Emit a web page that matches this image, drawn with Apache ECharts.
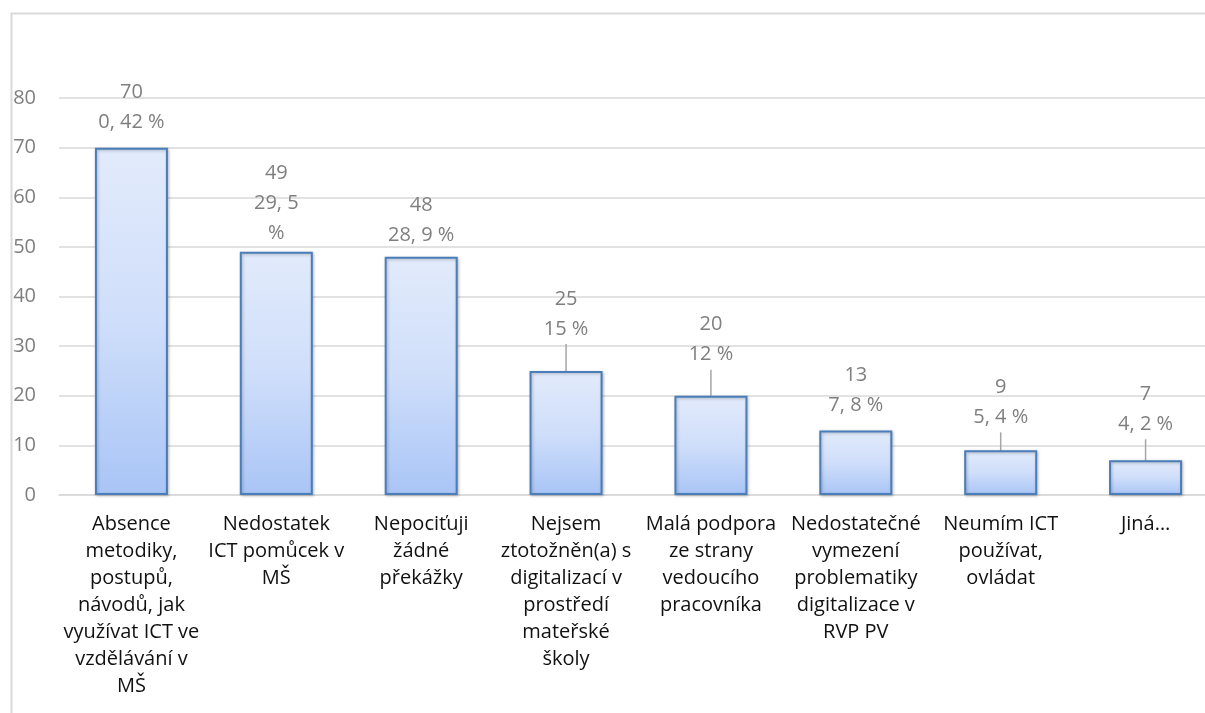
<!DOCTYPE html>
<html>
<head>
<meta charset="utf-8">
<script src="https://cdn.jsdelivr.net/npm/echarts@6/dist/echarts.min.js"></script>
<style>
  html, body { margin: 0; padding: 0; background: #fff; overflow: hidden; width: 1205px; height: 713px; }
  /* the plot continues a little past the right edge of the page */
  #chart { width: 1225px; height: 713px; }
</style>
</head>
<body>
<div id="chart"></div>
<script>
// Barriers to using ICT in kindergartens: respondent counts and shares
const categories = [
  'Absence\nmetodiky,\npostupů,\nnávodů, jak\nvyužívat ICT ve\nvzdělávání v\nMŠ',
  'Nedostatek\nICT pomůcek v\nMŠ',
  'Nepociťuji\nžádné\npřekážky',
  'Nejsem\nztotožněn(a) s\ndigitalizací v\nprostředí\nmateřské\nškoly',
  'Malá podpora\nze strany\nvedoucího\npracovníka',
  'Nedostatečné\nvymezení\nproblematiky\ndigitalizace v\nRVP PV',
  'Neumím ICT\npoužívat,\novládat',
  'Jiná…'
];
const counts = [70, 49, 48, 25, 20, 13, 9, 7];
const shares = ['0, 42 %', '29, 5\n%', '28, 9 %', '15 %', '12 %', '7, 8 %', '5, 4 %', '4, 2 %'];
const yTicks = [0, 10, 20, 30, 40, 50, 60, 70, 80];

// how far each label sits above its bar (px) and whether a leader line joins them
const labelGap = [10, 4, 7, 27, 26, 10, 18, 21];
const leader = [false, false, false, true, true, false, true, true];

const chart = echarts.init(document.getElementById('chart'), null, { renderer: 'canvas' });

const seriesData = counts.map((v, i) => ({
  value: v,
  label: { distance: leader[i] ? 4 : labelGap[i] },
  labelLine: { show: leader[i] }
}));

chart.setOption({
  animation: false,
  backgroundColor: '#ffffff',
  textStyle: { fontFamily: '"Open Sans", "Noto Sans", sans-serif' },
  graphic: [{
    type: 'rect',
    left: 9, top: 11,
    shape: { width: 1230, height: 740 },
    style: { fill: 'none', stroke: '#d9d9d9', lineWidth: 2 },
    silent: true,
    z: -1
  }],
  grid: { left: 59, right: 7, top: 98, bottom: 218, containLabel: false, outerBoundsMode: 'none' },
  xAxis: {
    type: 'category',
    data: categories,
    axisLine: { show: true, lineStyle: { color: '#d9d9d9', width: 1.5 } },
    axisTick: { show: false },
    axisLabel: {
      interval: 0,
      color: '#111111',
      fontSize: 20,
      lineHeight: 27,
      margin: 16,
      align: 'center'
    }
  },
  yAxis: {
    type: 'value',
    min: yTicks[0],
    max: yTicks[yTicks.length - 1],
    interval: yTicks[1] - yTicks[0],
    axisLine: { show: false },
    axisTick: { show: false },
    splitLine: { lineStyle: { color: '#d9d9d9', width: 1.5 } },
    axisLabel: { color: '#7f7f7f', fontSize: 20, margin: 23 }
  },
  series: [{
    type: 'bar',
    data: seriesData,
    barCategoryGap: '49.6%',
    itemStyle: {
      color: new echarts.graphic.LinearGradient(0, 0, 0, 1, [
        { offset: 0, color: '#e2ebfb' },
        { offset: 0.5, color: '#cfdefa' },
        { offset: 1, color: '#a9c5f6' }
      ]),
      borderColor: '#4a7ebb',
      borderWidth: 2,
      shadowColor: 'rgba(0,0,0,0.25)',
      shadowBlur: 3,
      shadowOffsetX: 1,
      shadowOffsetY: 1
    },
    label: {
      show: true,
      position: 'top',
      color: '#7f7f7f',
      fontSize: 20,
      lineHeight: 30,
      align: 'center',
      formatter: p => counts[p.dataIndex] + '\n' + shares[p.dataIndex]
    },
    labelLayout: p => leader[p.dataIndex] ? { dy: -(labelGap[p.dataIndex] - 4) } : {},
    labelLine: {
      show: false,
      lineStyle: { color: '#a6a6a6', width: 1.5 }
    }
  }]
});
</script>
</body>
</html>
